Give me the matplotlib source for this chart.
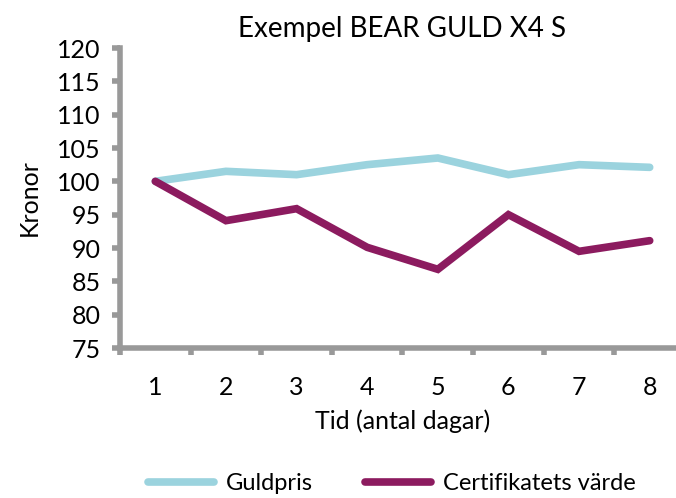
import numpy as np
import matplotlib.pyplot as plt

days = [1, 2, 3, 4, 5, 6, 7, 8]
guldpris = [100, 101.5, 101.0, 102.5, 103.5, 101.0, 102.5, 102.1]
certifikat = [100, 94.1, 95.9, 90.1, 86.8, 95.0, 89.5, 91.1]
yticks = list(range(75, 121, 5))

plt.rcParams['font.family'] = ['Lato', 'DejaVu Sans']

fig = plt.figure(figsize=(6.76, 4.98), dpi=100)
# right edge of plot area runs past the picture, as in the reference
ax = fig.add_axes([120/676, 1 - 348/498, 565/676, 300/498])

ax.plot(days, guldpris, color='#9BD3DE', lw=5.5, solid_capstyle='round',
        solid_joinstyle='miter', label='Guldpris')
ax.plot(days, certifikat, color='#8C1B5F', lw=5.5, solid_capstyle='round',
        solid_joinstyle='miter', label='Certifikatets värde')

ax.set_xlim(0.5, 8.5)
ax.set_ylim(75, 120)
ax.set_yticks(yticks)
ax.set_xticks(np.arange(0.5, 9, 1))
ax.set_xticklabels([])
ax.set_xticks(days, minor=True)
ax.set_xticklabels([str(d) for d in days], minor=True)
ax.tick_params(axis='x', which='minor', length=0, pad=20, labelsize=18)
ax.tick_params(axis='x', which='major', length=5, width=4, color='#999999', direction='out')
ax.tick_params(axis='y', length=6, width=4, color='#999999', direction='out', labelsize=18, pad=8)

for s in ['top', 'right']:
    ax.spines[s].set_visible(False)
for s in ['left', 'bottom']:
    ax.spines[s].set_color('#999999')
    ax.spines[s].set_linewidth(4)

ax.set_title('Exempel BEAR GULD X4 S', fontsize=20, pad=8)
ax.set_ylabel('Kronor', fontsize=18, labelpad=12)
ax.set_xlabel('Tid (antal dagar)', fontsize=18, labelpad=8)

fig.legend(loc='lower center', bbox_to_anchor=(0.58, -0.035), ncol=2, frameon=False,
           fontsize=17, handlelength=2.8, columnspacing=2.2, handletextpad=0.5)

fig.savefig('out.png', dpi=100)
